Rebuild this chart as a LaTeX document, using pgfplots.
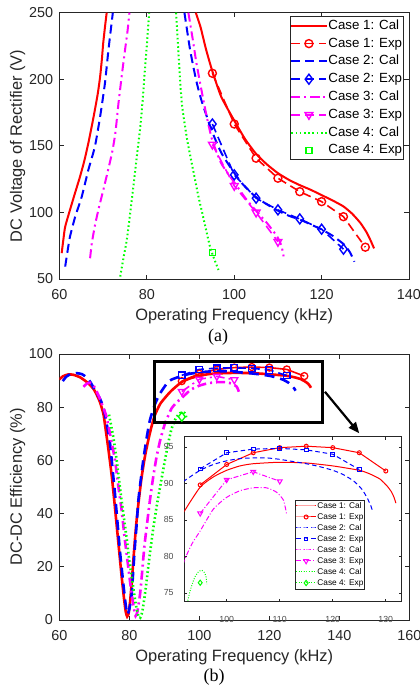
\documentclass[border=0pt]{standalone}
\usepackage{fontspec}
\setmainfont{Liberation Sans}
\newfontfamily\capserif{Liberation Serif}
\usepackage{pgfplots}
\usepackage{pgfplotstable}
\pgfplotsset{compat=1.18}
\usetikzlibrary{arrows.meta}

\definecolor{axgray}{gray}{0.15}
\definecolor{cRed}{rgb}{1,0,0}
\definecolor{cBlue}{rgb}{0,0,1}
\definecolor{cMag}{rgb}{1,0,1}
\definecolor{cGreen}{rgb}{0,1,0}
\newcommand\tickfont{\fontsize{14.4bp}{16bp}\selectfont}
\newcommand\labelfont{\fontsize{16.4bp}{19bp}\selectfont}
\newcommand\legfont{\fontsize{13.3bp}{15bp}\selectfont}
\newcommand\insfont{\fontsize{8.8bp}{10bp}\selectfont}
\newcommand\inslegfont{\fontsize{8.3bp}{10bp}\selectfont}

% ---------- (a) DC voltage of rectifier ----------
\pgfplotstableread{
x y
60.5 69.4
60.9 80
61.3 89.3
62.4 101.9
63.5 114
64.7 126.9
65.7 139
66.6 152
67.4 165
68.1 177
68.8 190
69.3 202
69.7 215
70.0 227
70.4 239
70.8 250
80 nan
91.2 250
92.3 239
93.5 223
94.9 207
97 187
100 169
102.5 155
105 144
107.5 136
110 129.5
112.5 124.5
115 120.5
117.5 117
120 113
122.5 109
125 104.5
127 99
128.9 92
130.3 85
131.2 79
132 73
}\aCa
\pgfplotstableread{
x y
95 204.5
100 166.4
105 140.7
110 125.7
115 115.6
120 108.1
125 96.8
130 73.9
}\aEa
\pgfplotstableread{
x y
61.3 59.3
61.8 70
62.4 81.8
63.6 96.9
65.1 111.9
66.6 131.9
68.1 149.4
69.3 171.9
70.4 197
71.2 222
72.1 247
72.2 250
80 nan
88.6 250
89.9 222
91.3 199
92.6 183
94.9 161
97 145
99.5 132
102 121
104.8 112
107.5 106
110.2 101
112.5 97.5
115.2 94.4
117.5 91
120.1 87
122.5 82.5
125.1 76
126.5 70
127.5 63
}\aCb
\pgfplotstableread{
x y
95 166.4
100 128.2
105 110.7
110 101.9
115 95.1
120 87.4
125 72.4
}\aEb
\pgfplotstableread{
x y
67.0 65.6
67.4 76.9
68.1 90
68.9 101.9
70.4 121.9
72.0 144.4
72.8 160
73.5 182
74.3 204
75.0 222
75.6 237
76.0 250
80 nan
89.5 250
90.5 230
91.3 213
92.2 197
93.5 175
94.9 155
97 137
99.9 123.1
102.5 111
104.8 101.9
107.5 92
109.8 82
110.8 75
111.3 67
}\aCc
\pgfplotstableread{
x y
95 151
100 120
105 100
110 78
}\aEc
\pgfplotstableread{
x y
73.9 51.8
74.6 65
75.4 79.3
76.2 100
76.9 119.3
77.7 142
78.5 164.4
79.1 187
79.6 209.5
80.1 230
80.5 249.6
83 nan
86.7 250
87.3 215
88.0 182
89.2 155
90.7 130
91.8 112
93.0 94.9
94.4 74.9
95.3 66
96.4 56.8
}\aCd
\pgfplotstableread{
x y
95 70
}\aEd

% ---------- (b) DC-DC efficiency ----------
\pgfplotstableread{
x y
60 90.4
61 91.6
62.5 92.3
64 92.2
66 91.2
68 89.3
69.7 87.0
70.5 85.2
71.6 82
72.6 77.5
73.1 73
74 64.5
75 54
75.7 45
76.4 35.5
77.1 26
77.8 16.5
78.5 8
79 3
79.4 1.3
79.8 2.5
80.2 6.5
80.7 14
81.1 21.5
81.6 30
82.1 37.6
82.8 46
83.5 53.5
84.4 61
85.4 67.5
86.4 73
87.3 77
88.8 81.2
90.5 84
92.1 86.3
95 89.5
97.5 90.9
100 91.8
102.5 92.4
105 92.7
110 92.9
115 92.8
120 92.4
125 91.8
127 91.3
128.9 90.6
130.3 89.6
131.1 88.8
131.6 88
131.9 87.3
}\bCa
\pgfplotstableread{
x y
61 89.8
62 91.5
63.5 92.6
65 92.8
66.5 92.4
68 91
69 89.2
70.2 86.3
71.5 83.5
72.6 80
73.5 74
74.5 66.4
75.2 57
75.9 47.6
76.6 37
77.3 26.3
78.1 16
78.8 7.5
79.4 2.2
80 4
80.7 10
81.1 18
81.6 27.6
82.1 36
82.6 45.1
83.3 53
84 60.2
84.9 68
85.9 75.2
87.3 81
88.8 85.2
91.1 89.6
92.1 90.4
95 91.8
97.5 92.6
100 93.1
102.5 93.4
105 93.5
107.5 93.5
110 93.3
112.5 93
115 92.7
117.5 92.3
120 91.8
122 91.2
124 90.3
125.5 89.2
126.5 88
127.2 86.9
127.5 86.2
}\bCb
\pgfplotstableread{
x y
66.9 87.7
67.8 88.8
68.8 89.2
69.6 88.5
70.4 86.7
71.5 83.5
72.5 80
73.5 76.4
74.7 68.5
75.9 60.2
76.8 51
77.8 41.4
78.7 30.5
79.7 20
80.4 12.5
81.1 6.3
81.5 3
81.8 1.5
82.3 3
83.1 10
83.7 18.5
84.3 27.6
85.1 36.5
85.9 45.1
86.8 53.5
87.8 61.4
88.9 68
90.2 73.9
91.3 77.3
92.1 79.6
93.5 81.8
95 83.5
97.5 86.5
100 88.1
102.5 89
105 89.4
107.5 89.4
109.4 88.8
110.7 87.7
111.3 85.8
}\bCc
\pgfplotstableread{
x y
74.2 77.2
75.4 69
76.3 61
77.3 50.1
78.3 40
79.3 30.1
80.2 20.5
81.1 12.5
81.9 5.5
82.6 1.5
83.1 0.8
83.7 3
84.5 10
85.2 17.5
85.9 25.1
86.8 34
87.8 42.6
89 51.5
90.2 60.2
91.2 67
92.1 72
93.1 75.3
94 77.2
94.8 78
95.3 78.1
95.8 77.8
96.1 77.2
96.25 76.2
}\bCd
\pgfplotstableread{
x y
95 89.8
100 92.6
105 94.2
110 94.9
115 95.1
120 94.9
125 94.2
130 91.7
}\bEa
\pgfplotstableread{
x y
95 92.0
100 94.2
105 94.7
110 94.8
115 94.6
120 94.0
125 91.9
}\bEb
\pgfplotstableread{
x y
95 85.9
100 90.5
105 91.6
110 90.3
}\bEc
\pgfplotstableread{
x y
95 76.4
}\bEd

\pgfplotsset{
  mat/.style={
    scale only axis, clip=true, unbounded coords=jump,
    tick align=inside, major tick length=4.5bp,
    axis line style={draw=axgray, line width=0.9bp},
    tick style={draw=axgray, line width=0.9bp},
    ticklabel style={font=\tickfont, text=axgray},
    xticklabel style={inner sep=0bp, anchor=north, yshift=-10bp},
    yticklabel style={inner sep=0bp, anchor=east, xshift=-6.2bp},
    /pgf/number format/assume math mode=true,
    label style={font=\labelfont, text=axgray},
  },
  cal/.style={smooth, tension=0.35},
  dshA/.style={dash pattern=on 9bp off 5bp},
  ddA/.style={dash pattern=on 9bp off 4bp on 2bp off 4bp},
  dotA/.style={dash pattern=on 1.6bp off 2.6bp},
  dshS/.style={dash pattern=on 4.5bp off 3bp},
  ddS/.style={dash pattern=on 5bp off 2bp on 1bp off 2bp},
  dotS/.style={dash pattern=on 0.9bp off 1.6bp},
}

\begin{document}
\begin{tikzpicture}
\path[use as bounding box] (0,0) rectangle (420bp,-687bp);

% ---------------- (a) ----------------
\begin{axis}[mat,
  at={(59.5bp,-279bp)}, anchor=south west,
  width=349.5bp, height=266.3bp,
  xmin=60, xmax=140, ymin=50, ymax=250,
  xtick={60,80,...,140}, ytick={50,100,...,250},
  xlabel={Operating Frequency (kHz)},
  ylabel={DC Voltage of Rectifier (V)},
  xlabel style={at={(axis description cs:0.5,-0.1577)}, anchor=base},
  ylabel style={at={(axis description cs:-0.1079,0.5)}, anchor=base},
  legend image code/.code={\draw[mark repeat=2,mark phase=2,#1] plot coordinates {(0bp,0bp) (17.5bp,0bp) (35bp,0bp)};},
  legend style={at={(axis description cs:0.9857,0.9876)}, anchor=north east,
    font=\legfont, draw=axgray, line width=0.8bp, fill=white,
    inner xsep=0.5bp, inner ysep=0.5bp, row sep=0bp,
    nodes={inner xsep=1bp, inner ysep=2.6bp, text height=9.8bp, text depth=2.8bp},
    cells={anchor=west}},
]
\addplot[cRed, line width=2bp, solid, cal] table {\aCa};
\addlegendentry{Case 1: Cal\hspace{4bp}}
\addplot[cRed, line width=1.6bp, dshA, mark=o, mark size=4bp, mark options={solid, line width=1.4bp}] table {\aEa};
\addlegendentry{Case 1: Exp\hspace{4bp}}
\addplot[cBlue, line width=2bp, dshA, cal] table {\aCb};
\addlegendentry{Case 2: Cal\hspace{4bp}}
\addplot[cBlue, line width=1.6bp, dshA, mark=diamond, mark size=5bp, mark options={solid, line width=1.4bp}] table {\aEb};
\addlegendentry{Case 2: Exp\hspace{4bp}}
\addplot[cMag, line width=2bp, ddA, cal] table {\aCc};
\addlegendentry{Case 3: Cal\hspace{4bp}}
\addplot[cMag, line width=1.6bp, dshA, mark=triangle, mark size=4.5bp, mark options={solid, rotate=180, line width=1.4bp}] table {\aEc};
\addlegendentry{Case 3: Exp\hspace{4bp}}
\addplot[cGreen, line width=2bp, dotA, cal] table {\aCd};
\addlegendentry{Case 4: Cal\hspace{4bp}}
\addplot[cGreen, only marks, mark=square, mark size=3bp, mark options={solid, line width=1.5bp}] table {\aEd};
\addlegendentry{Case 4: Exp\hspace{4bp}}
\end{axis}

% ---------------- (b) ----------------
\begin{axis}[mat,
  at={(59.3bp,-620bp)}, anchor=south west,
  width=350bp, height=266bp,
  xmin=60, xmax=160, ymin=0, ymax=100,
  xtick={60,80,...,160}, ytick={0,20,...,100},
  xlabel={Operating Frequency (kHz)},
  ylabel={DC-DC Efficiency (\%)},
  xlabel style={at={(axis description cs:0.5,-0.1568)}, anchor=base},
  ylabel style={at={(axis description cs:-0.1071,0.5)}, anchor=base},
]
\addplot[cRed, line width=2.6bp, solid, cal] table {\bCa};
\addplot[cRed, line width=1.6bp, solid, mark=o, mark size=3.5bp, mark options={solid, line width=1.3bp}] table {\bEa};
\addplot[cBlue, line width=2.6bp, dash pattern=on 10bp off 6bp, cal] table {\bCb};
\addplot[cBlue, line width=1.6bp, dshA, mark=square, mark size=3.2bp, mark options={solid, line width=1.3bp}] table {\bEb};
\addplot[cMag, line width=2.6bp, ddA, cal] table {\bCc};
\addplot[cMag, line width=1.6bp, ddA, mark=triangle, mark size=4bp, mark options={solid, rotate=180, line width=1.3bp}] table {\bEc};
\addplot[cGreen, line width=2.6bp, dotA, cal] table {\bCd};
\addplot[cGreen, line width=1.6bp, dotA, mark=diamond, mark size=4.5bp, mark options={solid, line width=1.3bp}] table {\bEd};
\draw[black, line width=3bp] (axis cs:87.1,74.2) rectangle (axis cs:135.3,97.1);
\draw[black, line width=2.2bp, -{Triangle[length=11bp, width=9bp]}] (axis cs:135.9,85.8) -- (axis cs:145.7,70.2);
\end{axis}

% ---------------- (b) zoomed view ----------------
\begin{axis}[mat,
  at={(184.3bp,-601.7bp)}, anchor=south west,
  width=217.4bp, height=165bp,
  xmin=92, xmax=133, ymin=73.8, ymax=96.4,
  xtick={100,110,120,130}, ytick={75,80,...,95},
  axis background/.style={fill=white},
  major tick length=3bp,
  axis line style={draw=axgray, line width=0.6bp},
  tick style={draw=axgray, line width=0.6bp},
  ticklabel style={font=\insfont, text=black!70},
  xticklabel style={inner sep=0bp, anchor=north, yshift=-4.5bp},
  yticklabel style={inner sep=0bp, anchor=east, xshift=-4.3bp},
  legend image code/.code={\draw[mark repeat=2,mark phase=2,#1] plot coordinates {(0bp,0bp) (10bp,0bp) (20bp,0bp)};},
  legend style={at={(axis description cs:0.8312,0.0752)}, anchor=south east,
    font=\inslegfont, draw=axgray, line width=0.6bp, fill=white,
    inner xsep=0.5bp, inner ysep=0.5bp, row sep=0bp,
    nodes={inner xsep=0.8bp, inner ysep=1.5bp, text height=6.2bp, text depth=1.8bp},
    cells={anchor=west}},
]
\addplot[cRed, line width=1bp, solid, cal] table {\bCa};
\addlegendentry{Case 1: Cal\hspace{3bp}}
\addplot[cRed, line width=1bp, solid, mark=o, mark size=2bp, mark options={solid}] table {\bEa};
\addlegendentry{Case 1: Exp\hspace{3bp}}
\addplot[cBlue, line width=1bp, dshS, cal] table {\bCb};
\addlegendentry{Case 2: Cal\hspace{3bp}}
\addplot[cBlue, line width=1bp, dshS, mark=square, mark size=1.8bp, mark options={solid}] table {\bEb};
\addlegendentry{Case 2: Exp\hspace{3bp}}
\addplot[cMag, line width=1bp, ddS, cal] table {\bCc};
\addlegendentry{Case 3: Cal\hspace{3bp}}
\addplot[cMag, line width=1bp, ddS, mark=triangle, mark size=2.8bp, mark options={solid, rotate=180}] table {\bEc};
\addlegendentry{Case 3: Exp\hspace{3bp}}
\addplot[cGreen, line width=1bp, dotS, cal] table {\bCd};
\addlegendentry{Case 4: Cal\hspace{3bp}}
\addplot[cGreen, line width=1bp, dotS, mark=diamond, mark size=2.6bp, mark options={solid}] table {\bEd};
\addlegendentry{Case 4: Exp\hspace{3bp}}
\end{axis}

\node[font=\capserif\fontsize{18bp}{20bp}\selectfont, anchor=base, text=black] at (218bp,-341.5bp) {(a)};
\node[font=\capserif\fontsize{18bp}{20bp}\selectfont, anchor=base, text=black] at (214bp,-681.5bp) {(b)};
\end{tikzpicture}
\end{document}
